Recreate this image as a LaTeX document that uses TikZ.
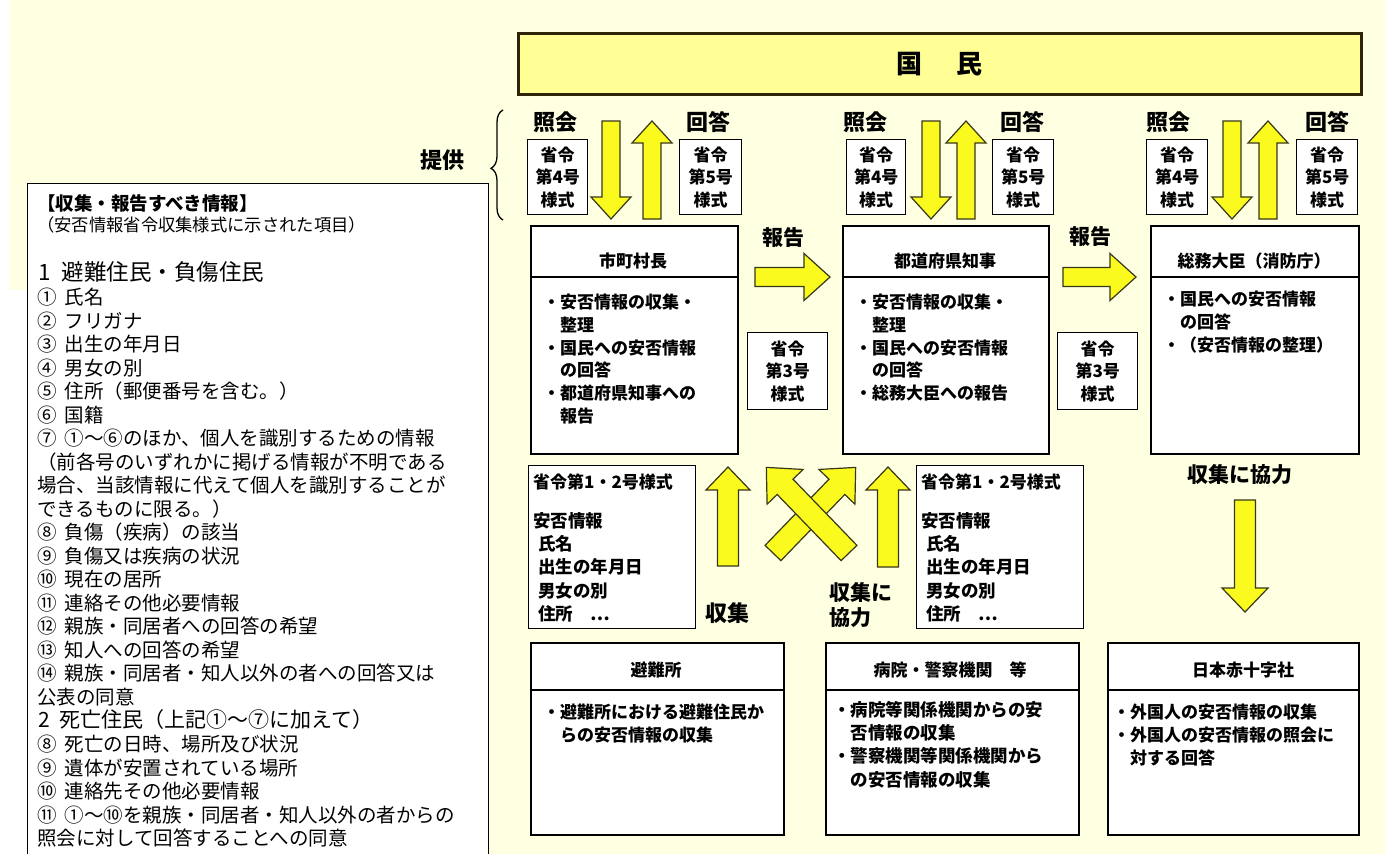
\documentclass[tikz,border=0pt]{standalone}
\usepackage{fontspec}
\setmainfont{Noto Sans CJK JP}
\usetikzlibrary{decorations.pathreplacing}
\definecolor{bgy}{RGB}{255,255,226}
\definecolor{ayel}{RGB}{250,250,30}
\definecolor{kyel}{RGB}{255,255,150}
\definecolor{aout}{RGB}{55,55,25}
\definecolor{kout}{RGB}{45,35,5}
\newcommand\FS[2]{\fontsize{#1pt}{#2pt}\selectfont}
\newcommand\gp{\hspace{8pt}}
\newcommand\blk[7]{\begin{scope}[shift={(#1,#2)},rotate=#3]
\draw[blkarrow] (0,-#5) -- ({#4-#7},-#5) -- ({#4-#7},-#6) -- (#4,0) -- ({#4-#7},#6) -- ({#4-#7},#5) -- (0,#5) -- cycle;
\end{scope}}
\begin{document}
\begin{tikzpicture}[x=1pt,y=-1pt,
  wbox/.style={draw=black, fill=white, line width=1.6pt, inner sep=0pt, anchor=north west},
  fbox/.style={draw=black, fill=white, line width=1.4pt, inner sep=0pt, anchor=north west},
  blkarrow/.style={draw=aout, fill=ayel, line width=1.2pt, line join=miter},
  lbl/.style={inner sep=0pt, font=\FS{21}{25}\bfseries},
  ftxt/.style={inner sep=0pt, align=center, font=\FS{17}{22.5}\bfseries},
  htxt/.style={inner sep=0pt, font=\FS{17}{22.5}\bfseries},
  body/.style={inner sep=0pt, align=left, anchor=north west, font=\FS{17}{22.7}\bfseries},
  ltxt/.style={inner sep=0pt, anchor=base west, font=\FS{19.5}{23.5}},
]
\useasboundingbox (0,0) rectangle (1385,854);
\clip (0,0) rectangle (1385,854);
\fill[bgy] (10,0) rectangle (1385,854);
\fill[white] (0,290) rectangle (27,854);

% 国民
\node[draw=kout, fill=kyel, line width=2.6pt, inner sep=0pt, anchor=north west,
  minimum width=843pt, minimum height=61pt] (kokumin) at (517,32) {};
\node[inner sep=0pt, font=\FS{26}{26}\bfseries] (kokumintxt) at (kokumin.center) {国\hspace{34pt}民};

% 提供 and brace
\node[inner sep=0pt, font=\FS{22}{22}\bfseries] (teikyo) at (442,160) {提供};
\draw[line width=1.3pt, decorate, decoration={brace, amplitude=12pt, aspect=0.47}] (503,220) -- (503,110);

% 照会 / 回答 labels
\node[lbl, font=\FS{22}{22}\bfseries] (sh1) at (555,122) {照会};
\node[lbl, font=\FS{22}{22}\bfseries] (ka1) at (708,122) {回答};
\node[lbl, font=\FS{22}{22}\bfseries] (sh2) at (865,122) {照会};
\node[lbl, font=\FS{22}{22}\bfseries] (ka2) at (1022,122) {回答};
\node[lbl, font=\FS{22}{22}\bfseries] (sh3) at (1168,122) {照会};
\node[lbl, font=\FS{22}{22}\bfseries] (ka3) at (1327,122) {回答};

% form boxes 4 / 5
\node[fbox, minimum width=60pt, minimum height=75pt] (f4a) at (527,139) {};
\node[ftxt] at (f4a.center) {省令\\第4号\\様式};
\node[fbox, minimum width=62pt, minimum height=75pt] (f5a) at (679,139) {};
\node[ftxt] at (f5a.center) {省令\\第5号\\様式};
\node[fbox, minimum width=59pt, minimum height=75pt] (f4b) at (846,139) {};
\node[ftxt] at (f4b.center) {省令\\第4号\\様式};
\node[fbox, minimum width=61pt, minimum height=75pt] (f5b) at (992,139) {};
\node[ftxt] at (f5b.center) {省令\\第5号\\様式};
\node[fbox, minimum width=61pt, minimum height=75pt] (f4c) at (1146,139) {};
\node[ftxt] at (f4c.center) {省令\\第4号\\様式};
\node[fbox, minimum width=61pt, minimum height=75pt] (f5c) at (1296,139) {};
\node[ftxt] at (f5c.center) {省令\\第5号\\様式};

% vertical arrows top
\blk{611}{121}{-90}{98}{9}{20}{22}
\blk{652}{219}{90}{98}{9}{20}{22}
\blk{931}{121}{-90}{98}{9}{20}{22}
\blk{966}{219}{90}{98}{9}{20}{22}
\blk{1232}{121}{-90}{98}{9}{20}{22}
\blk{1268}{219}{90}{98}{9}{20}{22}

% main boxes
\node[wbox, minimum width=207pt, minimum height=228pt] (shi) at (530,225) {};
\draw[line width=1.6pt] (530,277) -- (737,277);
\node[htxt] (shih) at (633,261) {市町村長};
\node[body] (shib) at (543,294) {・安否情報の収集・\\\hspace*{1em}整理\\・国民への安否情報\\\hspace*{1em}の回答\\・都道府県知事への\\\hspace*{1em}報告};

\node[wbox, minimum width=206pt, minimum height=228pt] (tdf) at (842,225) {};
\draw[line width=1.6pt] (842,277) -- (1048,277);
\node[htxt] (tdfh) at (945,261) {都道府県知事};
\node[body] (tdfb) at (855,294) {・安否情報の収集・\\\hspace*{1em}整理\\・国民への安否情報\\\hspace*{1em}の回答\\・総務大臣への報告};

\node[wbox, minimum width=208pt, minimum height=228pt] (som) at (1150,225) {};
\draw[line width=1.6pt] (1150,277) -- (1358,277);
\node[htxt] (somh) at (1254,261) {総務大臣（消防庁）};
\node[body] (somb) at (1163,291) {・国民への安否情報\\\hspace*{1em}の回答\\・（安否情報の整理）};

% 報告 arrows
\node[lbl] (hk1) at (783,238) {報告};
\node[lbl] (hk2) at (1090,237) {報告};
\blk{755}{277}{0}{75}{9.5}{23.5}{26}
\blk{1063}{277}{0}{73}{9.5}{23.5}{26}

% form 3 boxes
\node[fbox, minimum width=80pt, minimum height=77pt] (f3a) at (747,332) {};
\node[ftxt] at (f3a.center) {省令\\第3号\\様式};
\node[fbox, minimum width=80pt, minimum height=77pt] (f3b) at (1057,332) {};
\node[ftxt] at (f3b.center) {省令\\第3号\\様式};

% form 1-2 boxes
\node[fbox, minimum width=167pt, minimum height=163pt] (f12a) at (528,465) {};
\node[htxt, anchor=west] (f12at) at (533,482) {省令第1・2号様式};
\node[body, font=\FS{17.5}{23.3}\bfseries] (f12ab) at (533,512) {安否情報\\\hspace*{5pt}氏名\\\hspace*{5pt}出生の年月日\\\hspace*{5pt}男女の別\\\hspace*{5pt}住所　…};
\node[fbox, minimum width=167pt, minimum height=163pt] (f12b) at (916,465) {};
\node[htxt, anchor=west] (f12bt) at (921,482) {省令第1・2号様式};
\node[body, font=\FS{17.5}{23.3}\bfseries] (f12bb) at (921,512) {安否情報\\\hspace*{5pt}氏名\\\hspace*{5pt}出生の年月日\\\hspace*{5pt}男女の別\\\hspace*{5pt}住所　…};

% bottom arrows
\blk{728}{566}{90}{99}{10.5}{22}{23}
\blk{888}{567}{90}{100}{10.5}{22}{23}
\blk{773}{553}{46}{119}{11}{25}{27}
\blk{849}{553}{134}{119}{11}{25}{27}
\blk{1245}{500}{-90}{112}{10.5}{23}{24}

\node[lbl, font=\FS{22}{22}\bfseries] (shu) at (727,613) {収集};
\node[lbl, align=left, anchor=north west] (shuk) at (829,582) {収集に\\協力};
\node[lbl] (shuk2) at (1240,475) {収集に協力};

% bottom boxes
\node[wbox, minimum width=253pt, minimum height=192pt] (hin) at (530,642) {};
\draw[line width=1.6pt] (530,690) -- (783,690);
\node[htxt] (hinh) at (656,670) {避難所};
\node[body] (hinb) at (543,704) {・避難所における避難住民か\\\hspace*{1em}らの安否情報の収集};

\node[wbox, minimum width=253pt, minimum height=192pt] (byo) at (825,642) {};
\draw[line width=1.6pt] (825,690) -- (1078,690);
\node[htxt] (byoh) at (950,670) {病院・警察機関　等};
\node[body, font=\FS{17.5}{23.3}\bfseries] (byob) at (833,701) {・病院等関係機関からの安\\\hspace*{1em}否情報の収集\\・警察機関等関係機関から\\\hspace*{1em}の安否情報の収集};

\node[wbox, minimum width=251pt, minimum height=192pt] (jrc) at (1107,642) {};
\draw[line width=1.6pt] (1107,690) -- (1358,690);
\node[htxt] (jrch) at (1243,670) {日本赤十字社};
\node[body] (jrcb) at (1113,704) {・外国人の安否情報の収集\\・外国人の安否情報の照会に\\\hspace*{1em}対する回答};

% left info box
\node[wbox, line width=1.4pt, minimum width=461pt, minimum height=700pt] (info) at (27,183) {};
\node[inner sep=0pt, anchor=west, font=\FS{18.5}{18.5}\bfseries] (i1) at (37,203) {【収集・報告すべき情報】};
\node[inner sep=0pt, anchor=west, font=\FS{17.3}{17.3}] (i2) at (37,225) {（安否情報省令収集様式に示された項目）};
\node[inner sep=0pt, anchor=base west, font=\FS{22.5}{22.5}] (i3) at (38,280.5) {1\hspace{11pt}避難住民・負傷住民};
\foreach \t [count=\i from 0] in {①\gp 氏名, ②\gp フリガナ, ③\gp 出生の年月日, ④\gp 男女の別, ⑤\gp 住所（郵便番号を含む。）, ⑥\gp 国籍, ⑦\gp ①～⑥のほか、個人を識別するための情報, （前各号のいずれかに掲げる情報が不明である, 場合、当該情報に代えて個人を識別することが, できるものに限る。）, ⑧\gp 負傷（疾病）の該当, ⑨\gp 負傷又は疾病の状況, ⑩\gp 現在の居所, ⑪\gp 連絡その他必要情報, ⑫\gp 親族・同居者への回答の希望, ⑬\gp 知人への回答の希望, ⑭\gp 親族・同居者・知人以外の者への回答又は, 公表の同意}
  {\node[ltxt] (la\i) at (37,{304.5+23.5*\i}) {\t};}
\node[inner sep=0pt, anchor=base west, font=\FS{21}{21}] (i4) at (38,727.5) {2\hspace{10pt}死亡住民（上記①～⑦に加えて）};
\foreach \t [count=\i from 0] in {⑧\gp 死亡の日時、場所及び状況, ⑨\gp 遺体が安置されている場所, ⑩\gp 連絡先その他必要情報, ⑪\gp ①～⑩を親族・同居者・知人以外の者からの, 照会に対して回答することへの同意}
  {\node[ltxt] (lb\i) at (37,{751.5+23.5*\i}) {\t};}
\end{tikzpicture}
\end{document}
